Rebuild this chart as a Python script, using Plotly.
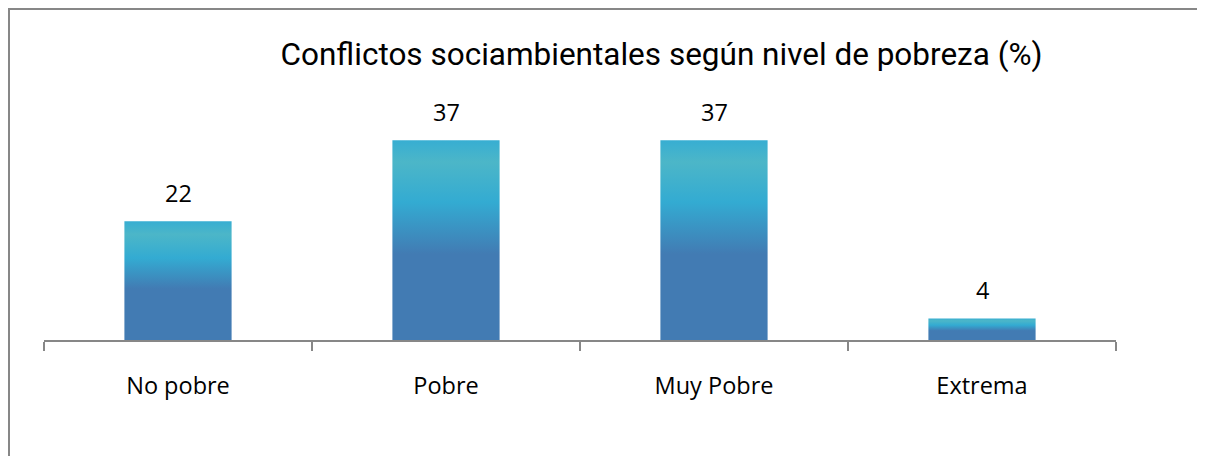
import plotly.graph_objects as go

categories = ["No pobre", "Pobre", "Muy Pobre", "Extrema"]
values = [22, 37, 37, 4]
title_text = "Conflictos sociambientales según nivel de pobreza (%)"

# page has an 8px body margin; figure sized to fill the rest of the window
OFF = 8
W, H = 1205 - OFF, 456 - OFF
ML, MR, MT, MB = 44 - OFF, 89, 124 - OFF, 116
PW, PH = W - ML - MR, H - MT - MB
BAR_HALF = 0.2
GRAY = "#878787"
grad = [[0, "#427bb3"], [0.43, "#427bb3"], [0.69, "#33abd2"],
        [0.89, "#4cb6c8"], [1, "#37aed2"]]

fig = go.Figure()
# invisible bar trace that carries the category axis
fig.add_trace(go.Bar(x=categories, y=values, width=0.4,
                     marker=dict(color="rgba(0,0,0,0)", line=dict(width=0)),
                     hoverinfo="skip", showlegend=False))
for i, v in enumerate(values):
    fig.add_trace(go.Scatter(
        x=[i - BAR_HALF, i + BAR_HALF, i + BAR_HALF, i - BAR_HALF, i - BAR_HALF],
        y=[0, 0, v, v, 0], xaxis="x2", yaxis="y",
        mode="lines", line=dict(width=0, color="rgba(0,0,0,0)"),
        fill="toself",
        fillgradient=dict(type="vertical", colorscale=grad),
        hoverinfo="skip", showlegend=False))

for c, v in zip(categories, values):
    fig.add_annotation(x=c, y=v, xref="x", yref="y", text=str(v),
                       showarrow=False, yanchor="bottom", yshift=10,
                       font=dict(family="Open Sans", size=23.5, color="#000000"))

def px_x(p):
    return (p - ML) / PW

def px_y(p):
    return (H - MB - p) / PH

fig.add_shape(type="rect", xref="paper", yref="paper",
              x0=px_x(1), x1=px_x(W + 10), y0=px_y(H + 10), y1=px_y(1),
              line=dict(color=GRAY, width=2), layer="below")

fig.update_layout(
    width=W, height=H,
    margin=dict(l=ML, r=MR, t=MT, b=MB),
    paper_bgcolor="white", plot_bgcolor="white",
    title=dict(text=title_text, x=(661.5 - OFF) / W, xref="container",
               xanchor="center", y=1 - (54 - OFF) / H, yref="container",
               yanchor="middle",
               font=dict(family="Roboto", size=31.5, color="#000000")),
    xaxis=dict(type="category", range=[-0.5, 3.5], showline=True,
               linecolor=GRAY, linewidth=2, ticks="outside",
               tickson="boundaries", ticklen=9, tickwidth=2, tickcolor=GRAY,
               showgrid=False, zeroline=False, ticklabelstandoff=24,
               tickfont=dict(family="Open Sans", size=23.5, color="#000000")),
    xaxis2=dict(overlaying="x", range=[-0.5, 3.5], visible=False),
    yaxis=dict(range=[0, 40], visible=False),
    showlegend=False,
)

fig.write_html("out.html")
